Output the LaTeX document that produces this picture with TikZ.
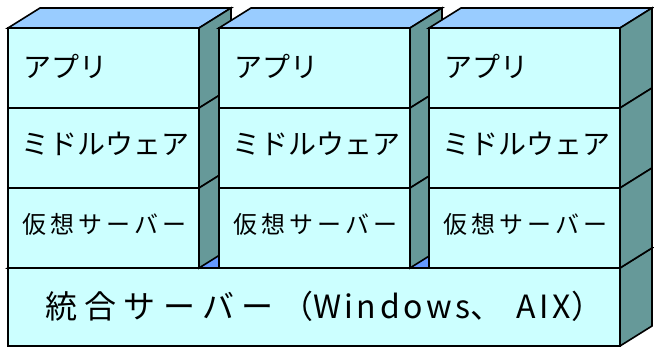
\documentclass[tikz,border=0pt]{standalone}
\usepackage{fontspec}
\setmainfont{Noto Sans CJK JP}
\newfontfamily\jplayer{Noto Sans CJK JP}
\newfontfamily\jpvirt[LetterSpace=17]{Noto Sans CJK JP}
\newfontfamily\jpbase[LetterSpace=23]{Noto Sans CJK JP}
\newfontfamily\jplatin[LetterSpace=11]{Noto Sans CJK JP}
\definecolor{frontcol}{HTML}{CCFFFF}
\definecolor{topcol}{HTML}{99CCFF}
\definecolor{sidecol}{HTML}{669999}
\definecolor{basetopcol}{HTML}{6699FF}

\begin{document}
\begin{tikzpicture}[x=1pt,y=1pt]
\tikzstyle{every node}+=[inner sep=0pt]
\tikzstyle{frontface}=[fill=frontcol,draw=black,line width=1.6pt,line join=miter]
\tikzstyle{sideface}=[fill=sidecol,draw=black,line width=1.6pt,line join=miter]
\tikzstyle{topface}=[fill=topcol,draw=black,line width=1.6pt,line join=miter]
\tikzstyle{label}=[anchor=west,text=black]
\useasboundingbox (0,0) rectangle (654,-347);
% integrated server (base box)
\draw [topface,fill=basetopcol] (8,-268) -- (40,-248) -- (652,-248) -- (620,-268) -- cycle;
\draw [frontface] (8,-268) rectangle (620,-346);
\draw [sideface] (620,-268) -- (652,-248) -- (652,-326) -- (620,-346) -- cycle;
% column 1
\draw [topface] (8,-28) -- (40,-8) -- (231,-8) -- (199,-28) -- cycle;
\draw [frontface] (8,-28) rectangle (199,-108);
\draw [sideface] (199,-28) -- (231,-8) -- (231,-88) -- (199,-108) -- cycle;
\draw [frontface] (8,-108) rectangle (199,-188);
\draw [sideface] (199,-108) -- (231,-88) -- (231,-168) -- (199,-188) -- cycle;
\draw [frontface] (8,-188) rectangle (199,-268);
\draw [sideface] (199,-188) -- (231,-168) -- (231,-248) -- (199,-268) -- cycle;
% column 2
\draw [topface] (219,-28) -- (251,-8) -- (442,-8) -- (410,-28) -- cycle;
\draw [frontface] (219,-28) rectangle (410,-108);
\draw [sideface] (410,-28) -- (442,-8) -- (442,-88) -- (410,-108) -- cycle;
\draw [frontface] (219,-108) rectangle (410,-188);
\draw [sideface] (410,-108) -- (442,-88) -- (442,-168) -- (410,-188) -- cycle;
\draw [frontface] (219,-188) rectangle (410,-268);
\draw [sideface] (410,-188) -- (442,-168) -- (442,-248) -- (410,-268) -- cycle;
% column 3
\draw [topface] (429,-28) -- (461,-8) -- (652,-8) -- (620,-28) -- cycle;
\draw [frontface] (429,-28) rectangle (620,-108);
\draw [sideface] (620,-28) -- (652,-8) -- (652,-88) -- (620,-108) -- cycle;
\draw [frontface] (429,-108) rectangle (620,-188);
\draw [sideface] (620,-108) -- (652,-88) -- (652,-168) -- (620,-188) -- cycle;
\draw [frontface] (429,-188) rectangle (620,-268);
\draw [sideface] (620,-188) -- (652,-168) -- (652,-248) -- (620,-268) -- cycle;
% labels
\node [label] (app1) at (23,-66) {\fontsize{28}{31}\jplayer アプリ};
\node [label] (mid1) at (21,-144) {\fontsize{28}{31}\jplayer ミドルウェア};
\node [label] (virt1) at (22,-224) {\fontsize{24}{27}\jpvirt 仮想サーバー};
\node [label] (app2) at (234,-66) {\fontsize{28}{31}\jplayer アプリ};
\node [label] (mid2) at (232,-144) {\fontsize{28}{31}\jplayer ミドルウェア};
\node [label] (virt2) at (233,-224) {\fontsize{24}{27}\jpvirt 仮想サーバー};
\node [label] (app3) at (444,-66) {\fontsize{28}{31}\jplayer アプリ};
\node [label] (mid3) at (442,-144) {\fontsize{28}{31}\jplayer ミドルウェア};
\node [label] (virt3) at (443,-224) {\fontsize{24}{27}\jpvirt 仮想サーバー};
\node [label] (base) at (45,-306) {\fontsize{32}{36}\jpbase 統合サーバー（{\jplatin Windows}、 {\jplatin AIX}）};
\end{tikzpicture}
\end{document}
